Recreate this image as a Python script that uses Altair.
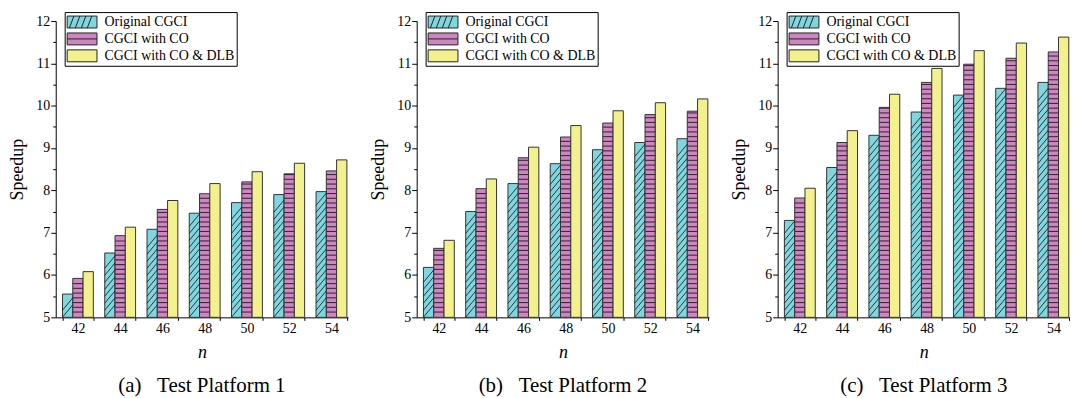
import altair as alt
import pandas as pd

FONT = "Liberation Serif"

n_values = [42, 44, 46, 48, 50, 52, 54]
series_names = ["Original CGCI", "CGCI with CO", "CGCI with CO & DLB"]
series_colors = ["#80D6DE", "#CE86C2", "#F3F08E"]
outline_colors = ["#222222", "#222222", "#222222"]
captions = ["(a)\u00a0\u00a0\u00a0Test Platform 1",
            "(b)\u00a0\u00a0\u00a0Test Platform 2",
            "(c)\u00a0\u00a0\u00a0Test Platform 3"]

# Platform 1
p1_orig = [5.55, 6.52, 7.08, 7.46, 7.71, 7.90, 7.97]
p1_co = [5.92, 6.93, 7.55, 7.92, 8.20, 8.39, 8.46]
p1_dlb = [6.08, 7.13, 7.76, 8.16, 8.44, 8.64, 8.72]
# Platform 2
p2_orig = [6.18, 7.50, 8.16, 8.63, 8.96, 9.13, 9.22]
p2_co = [6.63, 8.04, 8.77, 9.26, 9.59, 9.79, 9.87]
p2_dlb = [6.82, 8.27, 9.02, 9.53, 9.88, 10.07, 10.16]
# Platform 3
p3_orig = [7.29, 8.54, 9.30, 9.85, 10.25, 10.41, 10.55]
p3_co = [7.82, 9.13, 9.96, 10.55, 10.98, 11.12, 11.27]
p3_dlb = [8.05, 9.41, 10.27, 10.88, 11.30, 11.48, 11.62]

y_ticks = [5, 5.5, 6, 6.5, 7, 7.5, 8, 8.5, 9, 9.5, 10, 10.5, 11, 11.5, 12]
y_base = 5

platforms = [
    (1, [p1_orig, p1_co, p1_dlb]),
    (2, [p2_orig, p2_co, p2_dlb]),
    (3, [p3_orig, p3_co, p3_dlb]),
]
rows = []
for pid, series_vals in platforms:
    for sname, vals in zip(series_names, series_vals):
        for n, v in zip(n_values, vals):
            rows.append({"platform": pid, "n": n, "series": sname, "value": v, "base": y_base})
df = pd.DataFrame(rows)

# legend swatch paths (box + pattern hint)
legend_paths = [
    "M-1,-0.8H3V0.8H-1Z M-0.7,0.8L-0.1,-0.8 M0.1,0.8L0.7,-0.8 M0.9,0.8L1.5,-0.8 M1.7,0.8L2.3,-0.8",
    "M-1,-0.8H3V0.8H-1Z M-1,0H3",
    "M-1,-0.8H3V0.8H-1Z",
]

legend = alt.Legend(
    title=None, orient="none", legendX=9, legendY=-9,
    symbolSize=225, symbolStrokeColor="#222", symbolStrokeWidth=1,
    symbolOpacity=1, labelFont=FONT, labelFontSize=14, labelColor="black",
    labelOffset=22, padding=2, rowPadding=1, strokeColor="black",
    fillColor="white", labelLimit=400,
)

y_axis = alt.Axis(
    title="Speedup", values=y_ticks,
    labelExpr="datum.value % 1 === 0 ? format(datum.value, 'd') : ''",
    tickSize=alt.condition("datum.value % 1 !== 0", alt.value(3), alt.value(5)),
    grid=False, domainColor="black", tickColor="black", domainWidth=1, tickWidth=1,
    labelFont=FONT, labelFontSize=14, labelColor="black", labelPadding=1,
    titleFont=FONT, titleFontSize=18, titleFontWeight="normal", titleColor="black",
    titlePadding=9,
)
x_axis = alt.Axis(
    title="n", labelAngle=0, grid=False, domainColor="black", tickColor="black",
    tickBand="extent", tickSize=3, labelFont=FONT, labelFontSize=14, labelColor="black",
    labelPadding=1, titleFont=FONT, titleFontSize=18, titleFontStyle="italic",
    titleFontWeight="normal", titleColor="black", titlePadding=8,
)


def panel(pid, caption):
    base = alt.Chart(df).transform_filter(alt.datum.platform == pid)
    x = alt.X("n:O", axis=x_axis,
              scale=alt.Scale(paddingInner=0.27, paddingOuter=0.094, align=0.85))
    xoff = alt.XOffset("series:N", scale=alt.Scale(domain=series_names, paddingInner=0, paddingOuter=0))
    yscale = alt.Scale(domain=[5, 12], nice=False, zero=False)
    fill = alt.Fill("series:N", scale=alt.Scale(domain=series_names, range=series_colors), legend=legend)
    shape = alt.Shape("series:N", scale=alt.Scale(domain=series_names, range=legend_paths), legend=legend)
    stroke = alt.Stroke("series:N", scale=alt.Scale(domain=series_names, range=outline_colors), legend=legend)

    bars = base.mark_bar(stroke="#333", strokeWidth=1).encode(
        x=x, xOffset=xoff, y=alt.Y("value:Q", scale=yscale, axis=y_axis), y2="base:Q", fill=fill
    )
    legend_pts = base.transform_calculate(ly="5.5").mark_point(
        filled=False, size=2, opacity=1, strokeWidth=1
    ).encode(
        x=x, xOffset=xoff, y=alt.Y("ly:Q", scale=yscale, axis=y_axis),
        fill=fill, shape=shape, stroke=stroke
    )
    stripes = base.transform_filter(alt.datum.series == series_names[1]).transform_calculate(
        lv="sequence(5.112, datum.value - 0.03, 0.112)"
    ).transform_flatten(["lv"]).transform_calculate(
        lv2="datum.lv + 0.026"
    ).mark_bar(color="#3a2c36", strokeWidth=0).encode(
        x=x, xOffset=xoff, y=alt.Y("lv:Q", scale=yscale, axis=y_axis), y2="lv2:Q"
    )
    diag = base.transform_filter(alt.datum.series == series_names[0]).transform_calculate(
        hv="sequence(5.15, datum.value - 0.14, 0.165)"
    ).transform_flatten(["hv"]).mark_point(
        shape="M-1,1.2L1,-1.2", size=106, filled=False, stroke="#111",
        strokeWidth=0.8, opacity=1
    ).encode(
        x=x, xOffset=xoff, y=alt.Y("hv:Q", scale=yscale, axis=y_axis)
    )
    return alt.layer(legend_pts, bars, stripes, diag).properties(
        width=294, height=298,
        title=alt.TitleParams(text=caption, orient="bottom", anchor="middle", font=FONT,
                              fontSize=21, fontWeight="normal", color="black", offset=14),
    )


chart = alt.hconcat(
    panel(1, captions[0]), panel(2, captions[1]), panel(3, captions[2]), spacing=22
).resolve_scale(
    x="independent", y="independent", fill="independent", shape="independent",
    stroke="independent", xOffset="independent"
).configure_view(stroke=None).properties(
    padding={"left": 1, "top": 2, "right": 0, "bottom": 0}, background="white"
)

chart.save("out.html", embed_options={"renderer": "svg", "actions": False})
